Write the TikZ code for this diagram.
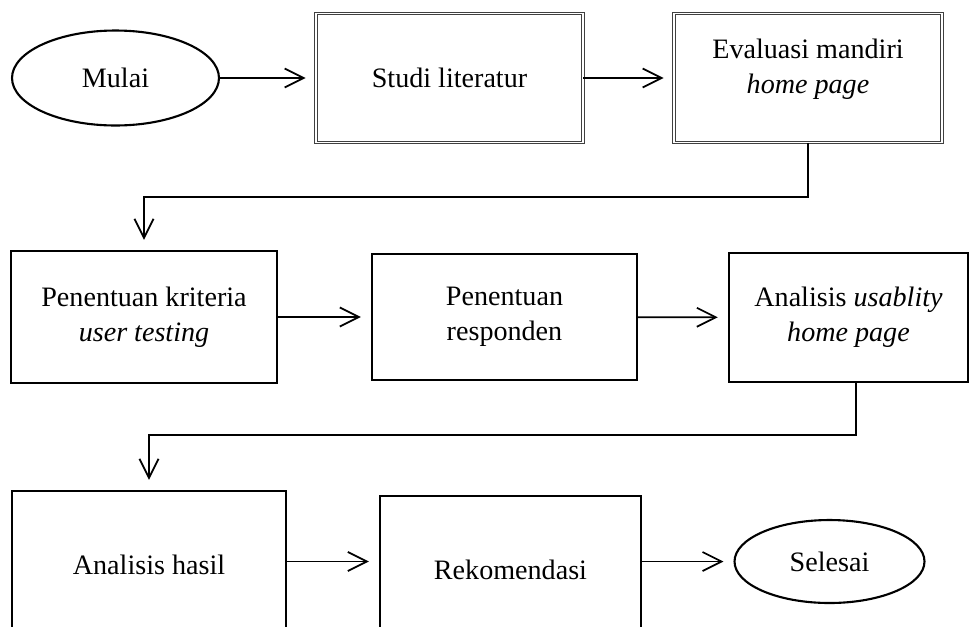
\documentclass[tikz,border=0pt]{standalone}
\usepackage{fontspec}
\setmainfont{Liberation Serif}
\usetikzlibrary{shapes.geometric,arrows.meta}

\begin{document}
\begin{tikzpicture}[x=0.02cm, y=-0.02cm,
  every node/.style={font=\fontsize{16}{20}\selectfont, align=center},
  oval/.style={ellipse, draw, line width=1.2pt},
  dbox/.style={rectangle, draw=black!75, double, line width=0.5pt, double distance=1pt},
  box/.style={rectangle, draw, line width=1.4pt},
  flow/.style={-{Straight Barb[length=3.8mm,width=3.8mm]}, line width=1pt, shorten >=0.2cm}]
\clip (0,0) rectangle (969,626);

\node[oval, minimum width=4.14cm, minimum height=1.9cm] (mulai) at (115.5,78) {Mulai};
\node[dbox, minimum width=5.34cm, minimum height=2.58cm] (studi) at (449.5,78) {Studi literatur};
\node[dbox, minimum width=5.36cm, minimum height=2.58cm] (evaluasi) at (808,78) {};
\node (evaltxt) at (808,69) {Evaluasi mandiri\\ \textit{home page}};

\node[box, minimum width=5.32cm, minimum height=2.64cm] (kriteria) at (144,317) {Penentuan kriteria\\ \textit{user testing}};
\node[box, minimum width=5.3cm, minimum height=2.52cm] (responden) at (504.5,317) {Penentuan\\ responden};
\node[box, minimum width=4.78cm, minimum height=2.58cm] (usability) at (848.5,317.5) {Analisis \textit{usablity}\\ \textit{home page}};

\node[box, minimum width=5.48cm, minimum height=2.96cm] (hasil) at (149,565) {Analisis hasil};
\node[box, minimum width=5.22cm, minimum height=2.96cm] (rekomendasi) at (510.5,570) {Rekomendasi};
\node[oval, minimum width=3.8cm, minimum height=1.66cm] (selesai) at (829.5,561.5) {Selesai};

\draw[flow] (mulai) -- (studi);
\draw[flow] (studi) -- (evaluasi);
\draw[flow] (evaluasi.south) -- ++(0,54) -| (kriteria.north);
\draw[flow] (kriteria) -- (responden);
\draw[flow] (responden) -- (usability);
\draw[flow] ([xshift=0.15cm]usability.south) -- ++(0,52) -| (hasil.north);
\draw[flow] (hasil.east |- selesai.west) -- (rekomendasi.west |- selesai.west);
\draw[flow] (rekomendasi.east |- selesai.west) -- (selesai.west);
\end{tikzpicture}
\end{document}
